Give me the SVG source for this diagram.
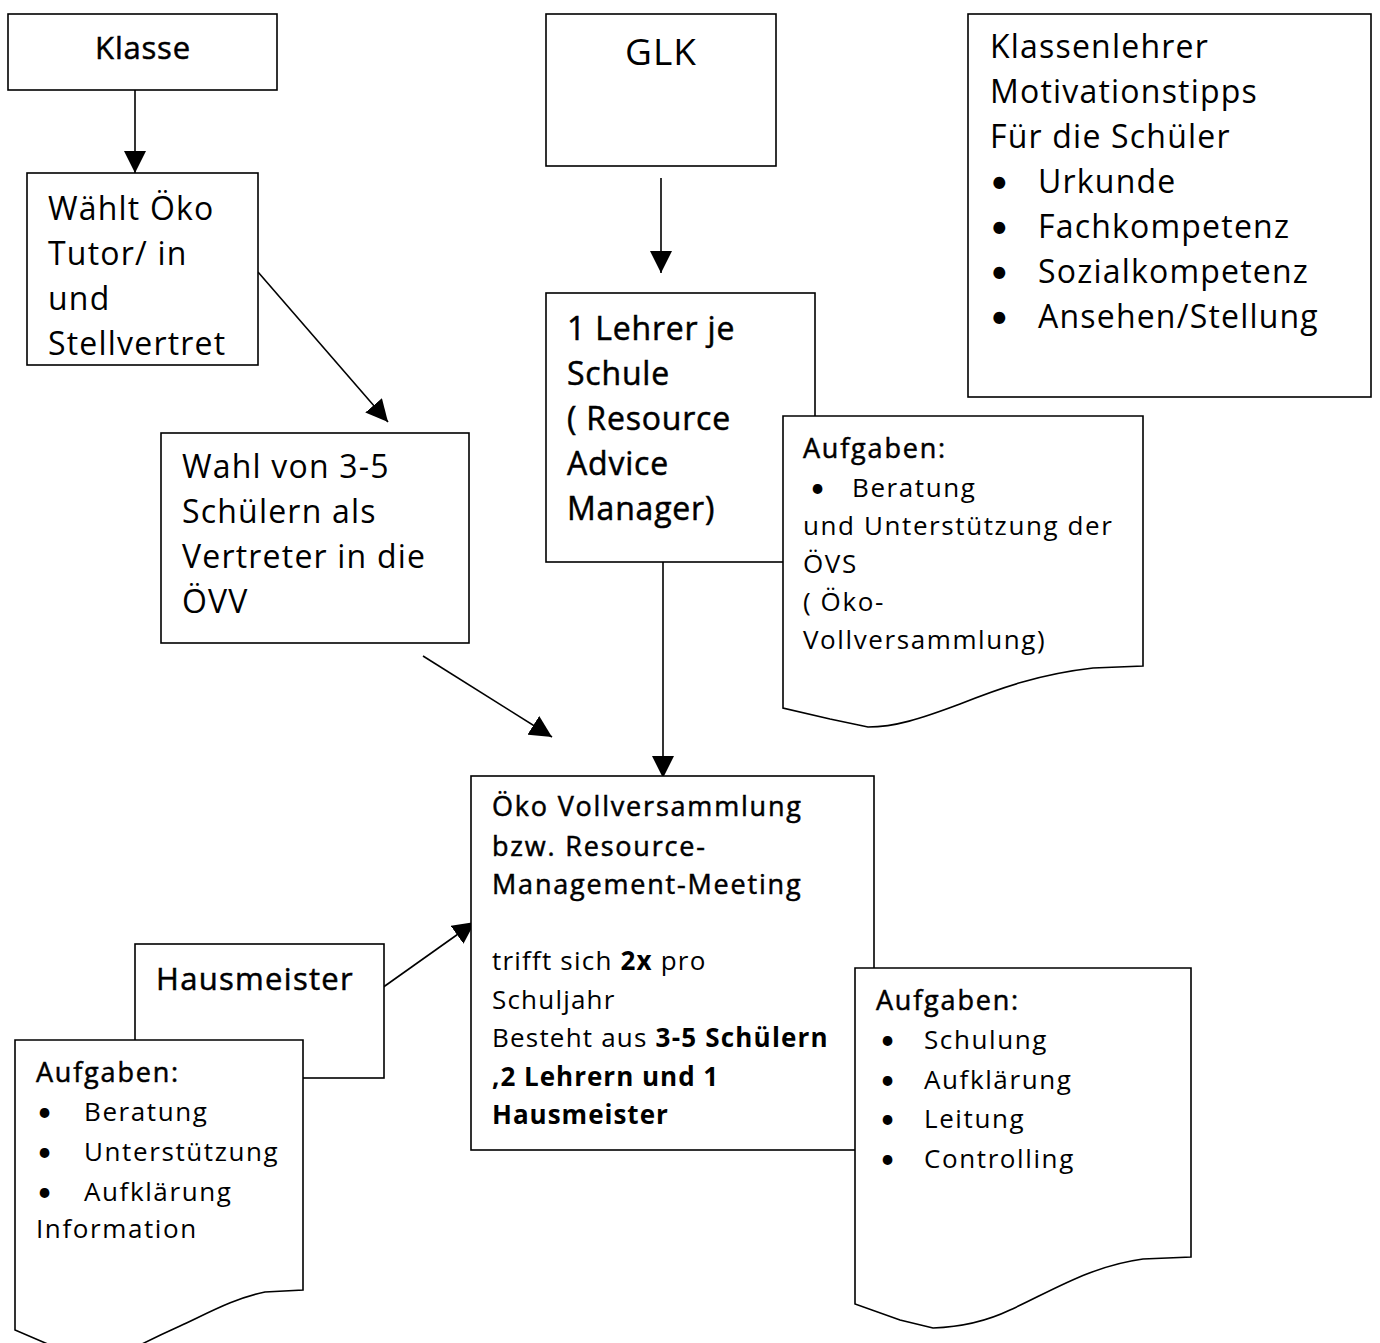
<svg xmlns="http://www.w3.org/2000/svg" width="1380" height="1343" viewBox="0 0 1380 1343">
<style>
.b{fill:#fff;stroke:#000;stroke-width:1.6}
.c{stroke:#000;stroke-width:1.6;fill:none}
text{font-family:"Open Sans",Lato,"Liberation Sans",sans-serif;fill:#000}
.l{font-size:32px;letter-spacing:1.2px}
.m{font-size:30px;font-weight:500;letter-spacing:0.8px;stroke:#000;stroke-width:0.5px}
.h{font-size:27px;font-weight:500;letter-spacing:1.8px;stroke:#000;stroke-width:0.5px}
.s{font-size:26px;letter-spacing:1.6px}
.k{font-weight:bold}
.u{font-family:Lato,"DejaVu Sans",sans-serif;letter-spacing:0}
</style>
<defs>
<marker id="a2" viewBox="0 0 10 10" refX="10" refY="5" markerWidth="22" markerHeight="22" markerUnits="userSpaceOnUse" orient="auto"><path d="M0,0L10,5L0,10z" fill="#000"/></marker>
</defs>
<rect width="1380" height="1343" fill="#fff"/>
<g id="connectors">
<line class="c" x1="135" y1="90" x2="135" y2="173" marker-end="url(#a2)"/>
<line class="c" x1="258" y1="272" x2="388" y2="422" marker-end="url(#a2)"/>
<line class="c" x1="423" y1="656" x2="552" y2="737" marker-end="url(#a2)"/>
<line class="c" x1="661" y1="178" x2="661" y2="273" marker-end="url(#a2)"/>
<line class="c" x1="663" y1="562" x2="663" y2="778" marker-end="url(#a2)"/>
<line class="c" x1="375" y1="993" x2="475" y2="922" marker-end="url(#a2)"/>
</g>
<g id="klasse">
<rect class="b" x="8" y="14" width="269" height="76"/>
<text class="m" x="143" y="59" text-anchor="middle" style="font-size:31px">Klasse</text>
</g>
<g id="waehlt">
<rect class="b" x="27" y="173" width="231" height="192"/>
<text class="l" x="48" y="220">Wählt Öko</text>
<text class="l" x="48" y="265">Tutor/ in</text>
<text class="l" x="48" y="310">und</text>
<text class="l" x="48" y="355">Stellvertret</text>
</g>
<g id="wahl">
<rect class="b" x="161" y="433" width="308" height="210"/>
<text class="l" x="182" y="478">Wahl von 3-5</text>
<text class="l" x="182" y="523">Schülern als</text>
<text class="l" x="182" y="568">Vertreter in die</text>
<text class="l" x="182" y="613">ÖVV</text>
</g>
<g id="glk">
<rect class="b" x="546" y="14" width="230" height="152"/>
<text x="661" y="65" text-anchor="middle" style="font-size:37px;letter-spacing:1px">GLK</text>
</g>
<g id="lehrer">
<rect class="b" x="546" y="293" width="269" height="269"/>
<text class="m" x="567" y="340" style="font-size:32px">1 Lehrer je</text>
<text class="m" x="567" y="385" style="font-size:32px">Schule</text>
<text class="m" x="567" y="430" style="font-size:32px">( Resource</text>
<text class="m" x="567" y="475" style="font-size:32px">Advice</text>
<text class="m" x="567" y="520" style="font-size:32px">Manager)</text>
</g>
<g id="aufgaben-rb">
<path class="b" d="M783,416H1143V666L1093,668C1040,674 1000,688 960,704C920,719 895,727 868,727L830,719L783,708Z"/>
<text class="h" x="803" y="458">Aufgaben:</text>
<text class="s u" x="810" y="497">•</text>
<text class="s" x="852" y="497">Beratung</text>
<text class="s" x="803" y="535">und Unterstützung der</text>
<text class="s" x="803" y="573">ÖVS</text>
<text class="s" x="803" y="611">( Öko-</text>
<text class="s" x="803" y="649">Vollversammlung)</text>
</g>
<g id="klassenlehrer">
<rect class="b" x="968" y="14" width="403" height="383"/>
<text class="l" x="990" y="58">Klassenlehrer</text>
<text class="l" x="990" y="103">Motivationstipps</text>
<text class="l" x="990" y="148">Für die Schüler</text>
<text class="l u" x="990" y="193">•</text>
<text class="l" x="1038" y="193">Urkunde</text>
<text class="l u" x="990" y="238">•</text>
<text class="l" x="1038" y="238">Fachkompetenz</text>
<text class="l u" x="990" y="283">•</text>
<text class="l" x="1038" y="283">Sozialkompetenz</text>
<text class="l u" x="990" y="328">•</text>
<text class="l" x="1038" y="328">Ansehen/Stellung</text>
</g>
<g id="oeko">
<rect class="b" x="471" y="776" width="403" height="374"/>
<text class="h" x="492" y="816">Öko Vollversammlung</text>
<text class="h" x="492" y="856">bzw. Resource-</text>
<text class="h" x="492" y="894">Management-Meeting</text>
<text class="s" x="492" y="970" style="letter-spacing:1.2px"> trifft sich <tspan class="k">2x</tspan> pro</text>
<text class="s" x="492" y="1009" style="letter-spacing:1.2px">Schuljahr</text>
<text class="s" x="492" y="1047" style="letter-spacing:1.2px">Besteht aus <tspan class="k">3-5 Schülern</tspan></text>
<text class="s k" x="492" y="1086" style="letter-spacing:1px">,2 Lehrern und 1</text>
<text class="s k" x="492" y="1124" style="letter-spacing:1px">Hausmeister</text>
</g>
<g id="aufgaben-r">
<path class="b" d="M855,968H1191V1257L1143,1259C1090,1266 1050,1292 1010,1310C985,1322 960,1327 933,1328L900,1320L855,1304Z"/>
<text class="h" x="876" y="1010">Aufgaben:</text>
<text class="s u" x="880" y="1049">•</text>
<text class="s" x="924" y="1049">Schulung</text>
<text class="s u" x="880" y="1089">•</text>
<text class="s" x="924" y="1089">Aufklärung</text>
<text class="s u" x="880" y="1128">•</text>
<text class="s" x="924" y="1128">Leitung</text>
<text class="s u" x="880" y="1168">•</text>
<text class="s" x="924" y="1168">Controlling</text>
</g>
<g id="hausmeister">
<rect class="b" x="135" y="944" width="249" height="134"/>
<text class="m" x="156" y="990" style="font-size:31px;letter-spacing:1.3px">Hausmeister</text>
</g>
<g id="aufgaben-l">
<path class="b" d="M15,1040H303V1290L265,1292C235,1298 210,1312 180,1326C160,1335 150,1340 140,1345H50L15,1330Z"/>
<text class="h" x="36" y="1082">Aufgaben:</text>
<text class="s u" x="37" y="1121">•</text>
<text class="s" x="84" y="1121">Beratung</text>
<text class="s u" x="37" y="1161">•</text>
<text class="s" x="84" y="1161">Unterstützung</text>
<text class="s u" x="37" y="1201">•</text>
<text class="s" x="84" y="1201">Aufklärung</text>
<text class="s" x="36" y="1238">Information</text>
</g>
</svg>
